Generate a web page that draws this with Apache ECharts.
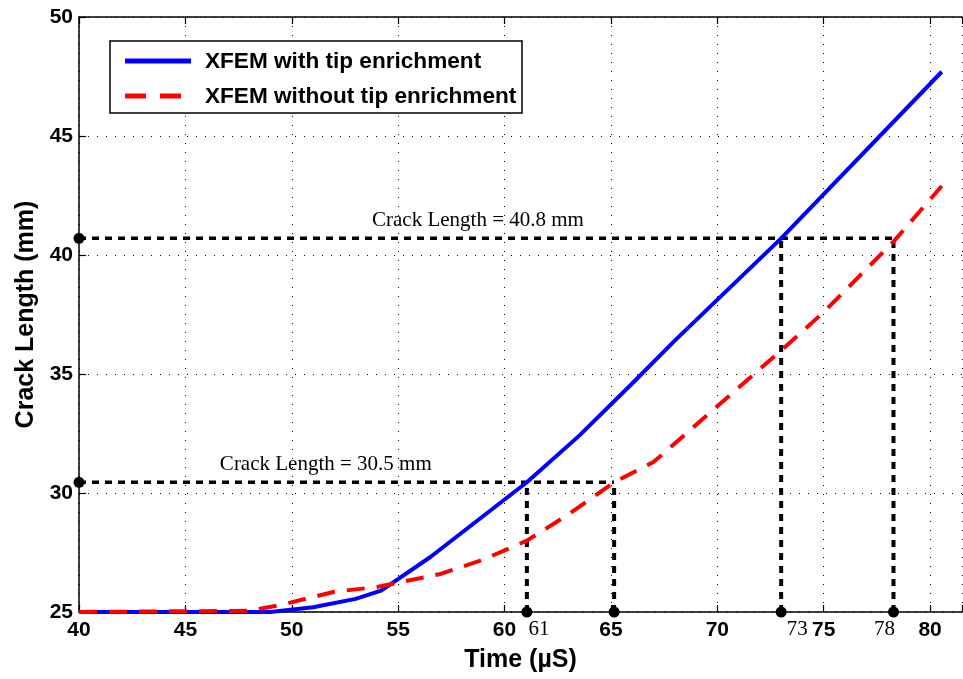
<!DOCTYPE html>
<html><head><meta charset="utf-8">
<script src="https://cdn.jsdelivr.net/npm/echarts@6/dist/echarts.min.js"></script>
<style>html,body{margin:0;padding:0;background:#fff}#c{width:963px;height:679px}</style>
</head><body><div id="c"></div>
<script>
// Data
const seriesNames = ['XFEM with tip enrichment', 'XFEM without tip enrichment'];
const withTipX = [40, 49, 51, 53, 54.2, 56.5, 61.05, 63.5, 66, 68, 73, 80.55];
const withTipY = [25, 25, 25.2, 25.55, 25.9, 27.3, 30.45, 32.4, 34.6, 36.4, 40.7, 47.7];
const withoutTipX = [40, 48, 49.5, 52, 54, 57, 59, 61.05, 63, 65.15, 67, 69.3, 73.2, 75, 78.28, 80.55];
const withoutTipY = [25, 25.05, 25.3, 25.85, 26.05, 26.6, 27.2, 28.0, 29.1, 30.45, 31.3, 33.1, 36.15, 37.6, 40.56, 42.9];
const crackLevels = [30.45, 40.7];
const crackLabels = ['Crack Length = 30.5 mm', 'Crack Length = 40.8 mm'];
const crackLabelX = [51.6, 58.75];
const crossTimes = [[61.05, 65.15], [73.0, 78.28]];
const crossLabels = [['61', ''], ['73', '78']];
const xTicks = [40, 45, 50, 55, 60, 65, 70, 75, 80];
const yTicks = [25, 30, 35, 40, 45, 50];

const zip = (a, b) => a.map((v, i) => [v, b[i]]);
const chart = echarts.init(document.getElementById('c'), null, {renderer: 'canvas'});

const hStyle = {color: '#000', width: 3.5, type: [7, 6], opacity: 1};
const vStyle = {color: '#000', width: 4, type: [7, 6], opacity: 1};
const series = [];
crackLevels.forEach((lvl, k) => {
  const tmax = crossTimes[k][crossTimes[k].length - 1];
  series.push({type: 'line', data: [[40, lvl], [tmax, lvl]], symbol: 'none', lineStyle: hStyle, z: 3, silent: true});
  crossTimes[k].forEach(t => {
    series.push({type: 'line', data: [[t, 25], [t, lvl]], symbol: 'none', lineStyle: vStyle, z: 3, silent: true});
  });
});
series.push({
  name: seriesNames[0], type: 'line', data: zip(withTipX, withTipY), symbol: 'none',
  lineStyle: {color: '#0000ff', width: 4}, z: 5
});
series.push({
  name: seriesNames[1], type: 'line', data: zip(withoutTipX, withoutTipY), symbol: 'none',
  lineStyle: {color: '#ff0000', width: 4, type: [18, 12]}, z: 6
});
// dots on axes
const dotPts = crackLevels.map(l => [40, l]);
crossTimes.forEach(arr => arr.forEach(t => dotPts.push([t, 25])));
series.push({
  type: 'scatter', data: dotPts, symbolSize: 11,
  itemStyle: {color: '#000', opacity: 1}, z: 10, clip: false
});
// labels under x-axis dots
const dotLabelData = [];
crossTimes.forEach((arr, k) => arr.forEach((t, j) => {
  if (crossLabels[k][j] !== '') dotLabelData.push({
    value: [t, 25], name: crossLabels[k][j],
    label: {offset: crossLabels[k][j] === '78' ? [-9, 0] : (crossLabels[k][j] === '73' ? [16, 0] : [12, 0])}
  });
}));
series.push({
  type: 'scatter', symbolSize: 0, z: 10, clip: false, itemStyle: {opacity: 1},
  data: dotLabelData,
  label: {show: true, formatter: p => p.name, position: 'bottom', distance: 7,
    fontFamily: 'Liberation Serif', fontSize: 21, color: '#000', textBorderWidth: 0}
});
// crack length texts
series.push({
  type: 'scatter', symbolSize: 0, z: 10, itemStyle: {opacity: 1},
  data: crackLevels.map((l, i) => ({
    value: [crackLabelX[i], l],
    label: {show: true, formatter: crackLabels[i], position: 'top', distance: 7}
  })),
  label: {fontFamily: 'Liberation Serif', fontSize: 21, color: '#000', opacity: 1, textBorderWidth: 0}
});

const lx = 110, ly = 41;
chart.setOption({
  animation: false,
  backgroundColor: '#fff',
  grid: {left: 79, top: 17, right: 1, bottom: 67, containLabel: false, outerBoundsMode: 'none'},
  xAxis: [{
    type: 'value', min: 40, max: 81.5, interval: 5,
    name: 'Time (\u00b5S)', nameLocation: 'middle', nameGap: 36,
    nameTextStyle: {fontFamily: 'Liberation Sans', fontWeight: 'bold', fontSize: 25, color: '#000'},
    axisLine: {lineStyle: {color: '#000', width: 1.5}},
    axisTick: {inside: true, length: 7, lineStyle: {color: '#000', width: 1.2}},
    axisLabel: {formatter: v => (xTicks.indexOf(v) >= 0 ? String(v) : ''), fontFamily: 'Liberation Sans', fontWeight: 'bold', fontSize: 21, color: '#000', margin: 8},
    splitLine: {show: true, lineStyle: {color: '#000', width: 1, type: [1, 8]}}
  }, {
    type: 'value', position: 'top', min: 40, max: 81.5, interval: 5,
    axisLine: {show: true, lineStyle: {color: '#000', width: 1.5}},
    axisTick: {show: true, inside: true, length: 7, lineStyle: {color: '#000', width: 1.2}},
    axisLabel: {show: false}, splitLine: {show: false}
  }],
  yAxis: {
    type: 'value', min: 25, max: 50, interval: 5,
    name: 'Crack Length (mm)', nameLocation: 'middle', nameGap: 39, nameRotate: 90,
    nameTextStyle: {fontFamily: 'Liberation Sans', fontWeight: 'bold', fontSize: 25, color: '#000'},
    axisLine: {show: true, lineStyle: {color: '#000', width: 1.5}},
    axisTick: {show: true, inside: true, length: 7, lineStyle: {color: '#000', width: 1.2}},
    axisLabel: {formatter: v => (yTicks.indexOf(v) >= 0 ? String(v) : ''), fontFamily: 'Liberation Sans', fontWeight: 'bold', fontSize: 21, color: '#000', margin: 6},
    splitLine: {show: true, lineStyle: {color: '#000', width: 1, type: [1, 8]}}
  },
  series: series,
  graphic: [
    {type: 'rect', z: 100, shape: {x: lx, y: ly, width: 412, height: 72}, style: {fill: '#fff', stroke: '#000', lineWidth: 1.5}},
    {type: 'line', z: 101, shape: {x1: lx + 15, y1: ly + 20, x2: lx + 81, y2: ly + 20}, style: {stroke: '#0000ff', lineWidth: 5}},
    {type: 'line', z: 101, shape: {x1: lx + 15, y1: ly + 55, x2: lx + 81, y2: ly + 55}, style: {stroke: '#ff0000', lineWidth: 5, lineDash: [21, 14]}},
    {type: 'text', z: 101, x: lx + 95, y: ly + 21, style: {text: seriesNames[0], fontFamily: 'Liberation Sans', fontWeight: 'bold', fontSize: 22.6, fill: '#000', verticalAlign: 'middle'}},
    {type: 'text', z: 101, x: lx + 95, y: ly + 56, style: {text: seriesNames[1], fontFamily: 'Liberation Sans', fontWeight: 'bold', fontSize: 22.6, fill: '#000', verticalAlign: 'middle'}}
  ]
});
</script></body></html>
